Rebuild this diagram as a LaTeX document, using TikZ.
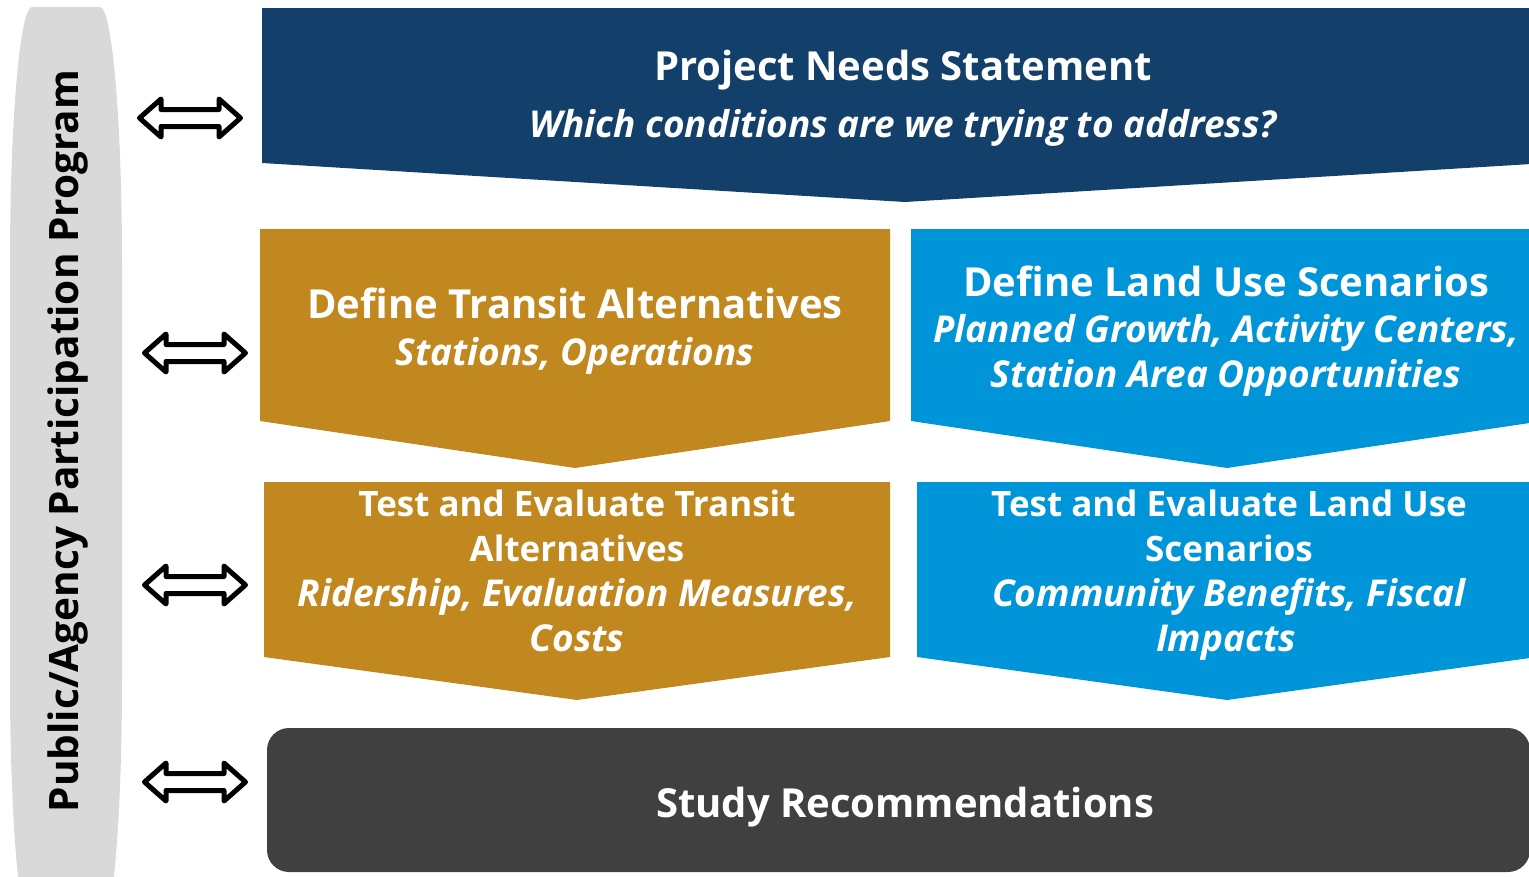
\documentclass[tikz,border=0pt]{standalone}
\usepackage{fontspec}
\setmainfont{Open Sans}
\definecolor{navy}{HTML}{133F6B}
\definecolor{gold}{HTML}{C0881F}
\definecolor{sky}{HTML}{0094D8}
\definecolor{darkbox}{HTML}{404040}
\definecolor{barfill}{HTML}{D9D9D9}
\tikzset{
  ttl/.style={text=white,font=\fontsize{40}{48}\selectfont\bfseries,anchor=base,inner sep=0pt},
  sub/.style={text=white,font=\fontsize{37}{45}\selectfont\bfseries\itshape,anchor=base,inner sep=0pt},
  bod/.style={text=white,font=\fontsize{35}{43}\selectfont\bfseries,anchor=base,inner sep=0pt},
  pics/dblarrow/.style={code={
    \draw[line width=5pt,line join=round,fill=white]
      (-50.5,0) -- (-29,19) -- (-29,8.5) -- (29,8.5) -- (29,19) -- (50.5,0)
      -- (29,-19) -- (29,-8.5) -- (-29,-8.5) -- (-29,-19) -- cycle;
  }}
}
\begin{document}
\begin{tikzpicture}[x=1pt,y=-1pt]
\useasboundingbox (0,0) rectangle (1529,876);
\begin{scope}
\clip (0,0) rectangle (1529,876);
% left bar
\fill[barfill] (10,262) .. controls (10,121) and (19.9,7) .. (32,7) -- (100,7)
  .. controls (112.1,7) and (122,121) .. (122,262) -- (122,680)
  .. controls (122,821) and (112.1,935) .. (100,935) -- (32,935)
  .. controls (19.9,935) and (10,821) .. (10,680) -- cycle;
\node[rotate=90,font=\fontsize{40.5}{48}\selectfont\bfseries,inner sep=0pt] (bar) at (68,441) {Public/Agency Participation Program};
% top box
\fill[navy] (262,8) -- (1548,8) -- (1548,163) -- (905,202) -- (262,163) -- cycle;
\node[ttl] (pn) at (903,80) {Project Needs Statement};
\node[sub] (pnq) at (903,137) {Which conditions are we trying to address?};
% transit 1
\fill[gold] (260,229) -- (890,229) -- (890,421) -- (575,468) -- (260,421) -- cycle;
\node[ttl] (ta) at (575,318) {Define Transit Alternatives};
\node[sub] (tas) at (575,365) {Stations, Operations};
% land use 1
\fill[sky] (911,229) -- (1543,229) -- (1543,421) -- (1227,468) -- (911,421) -- cycle;
\node[ttl] (lu) at (1226,296) {Define Land Use Scenarios};
\node[sub] (lus1) at (1226,342) {Planned Growth, Activity Centers,};
\node[sub] (lus2) at (1226,387) {Station Area Opportunities};
% transit 2
\fill[gold] (264,482) -- (890,482) -- (890,657) -- (577,700) -- (264,657) -- cycle;
\node[bod] (te1) at (577,516) {Test and Evaluate Transit};
\node[bod] (te2) at (577,561) {Alternatives};
\node[sub] (te3) at (577,606) {Ridership, Evaluation Measures,};
\node[sub] (te4) at (577,651) {Costs};
% land use 2
\fill[sky] (917,482) -- (1537,482) -- (1537,657) -- (1227,700) -- (917,657) -- cycle;
\node[bod] (le1) at (1229,516) {Test and Evaluate Land Use};
\node[bod] (le2) at (1229,561) {Scenarios};
\node[sub] (le3) at (1229,606) {Community Benefits, Fiscal};
\node[sub] (le4) at (1226,651) {Impacts};
% study recommendations
\fill[darkbox,rounded corners=22pt] (267,728) rectangle (1530,872);
\node[ttl] (sr) at (905,817) {Study Recommendations};
% arrows
\pic at (190,118) {dblarrow};
\pic at (195,353) {dblarrow};
\pic at (195,585) {dblarrow};
\pic at (195,782) {dblarrow};
\end{scope}
\end{tikzpicture}
\end{document}
